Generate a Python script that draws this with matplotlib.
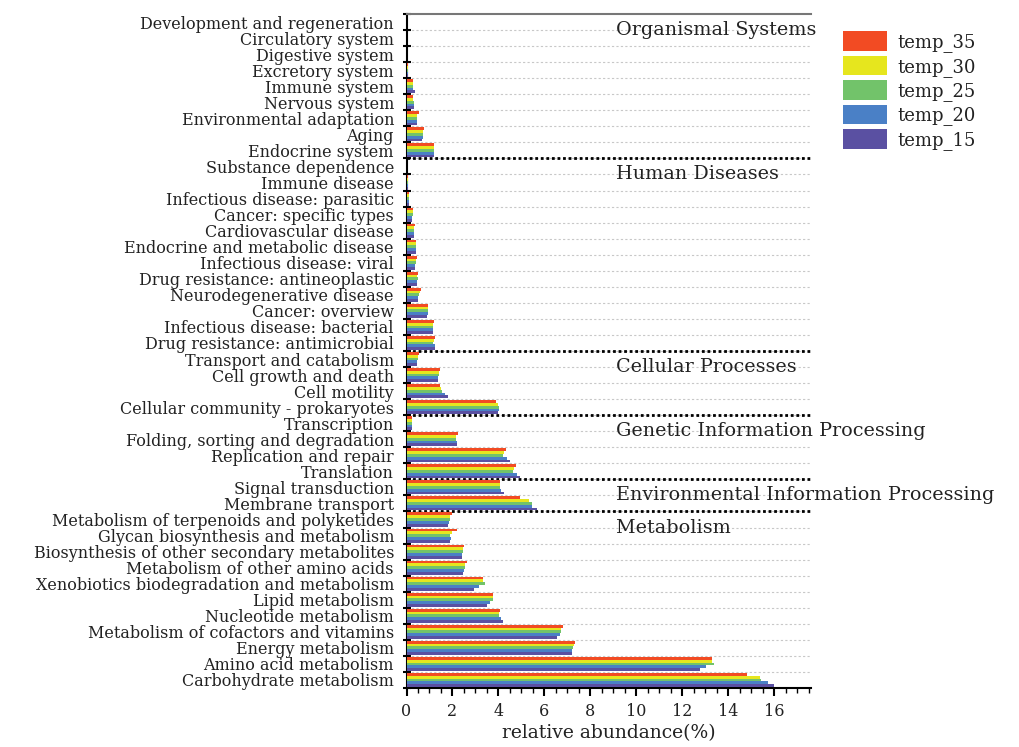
import matplotlib.pyplot as plt
import numpy as np

# カテゴリ (上から順)
categories = [
    'Development and regeneration', 'Circulatory system', 'Digestive system',
    'Excretory system', 'Immune system', 'Nervous system',
    'Environmental adaptation', 'Aging', 'Endocrine system',
    'Substance dependence', 'Immune disease', 'Infectious disease: parasitic',
    'Cancer: specific types', 'Cardiovascular disease',
    'Endocrine and metabolic disease', 'Infectious disease: viral',
    'Drug resistance: antineoplastic', 'Neurodegenerative disease',
    'Cancer: overview', 'Infectious disease: bacterial',
    'Drug resistance: antimicrobial',
    'Transport and catabolism', 'Cell growth and death', 'Cell motility',
    'Cellular community - prokaryotes',
    'Transcription', 'Folding, sorting and degradation',
    'Replication and repair', 'Translation',
    'Signal transduction', 'Membrane transport',
    'Metabolism of terpenoids and polyketides',
    'Glycan biosynthesis and metabolism',
    'Biosynthesis of other secondary metabolites',
    'Metabolism of other amino acids',
    'Xenobiotics biodegradation and metabolism', 'Lipid metabolism',
    'Nucleotide metabolism', 'Metabolism of cofactors and vitamins',
    'Energy metabolism', 'Amino acid metabolism', 'Carbohydrate metabolism',
]

groups = ['Organismal Systems', 'Human Diseases', 'Cellular Processes',
          'Genetic Information Processing',
          'Environmental Information Processing', 'Metabolism']
group_sizes = [9, 12, 4, 4, 2, 11]

series = ['temp_35', 'temp_30', 'temp_25', 'temp_20', 'temp_15']
colors = ['#F24B23', '#E6E61E', '#72C36A', '#4A80C6', '#5A50A2']

temp_35 = [0.02, 0.02, 0.03, 0.05, 0.30, 0.27, 0.53, 0.76, 1.19,
           0.03, 0.06, 0.10, 0.30, 0.35, 0.40, 0.45, 0.50, 0.64, 0.93, 1.19, 1.23,
           0.56, 1.45, 1.45, 3.88,
           0.24, 2.22, 4.32, 4.75,
           4.08, 4.95,
           1.97, 2.18, 2.52, 2.62, 3.32, 3.75, 4.07, 6.79, 7.35, 13.29, 14.81]
temp_30 = [0.02, 0.02, 0.03, 0.05, 0.28, 0.30, 0.47, 0.73, 1.19,
           0.03, 0.06, 0.10, 0.27, 0.34, 0.40, 0.43, 0.47, 0.59, 0.93, 1.15, 1.20,
           0.50, 1.42, 1.51, 4.00,
           0.24, 2.17, 4.25, 4.68,
           4.08, 5.31,
           1.91, 1.97, 2.45, 2.55, 3.35, 3.75, 4.04, 6.73, 7.27, 13.29, 15.40]
temp_25 = [0.02, 0.02, 0.03, 0.05, 0.28, 0.33, 0.47, 0.73, 1.19,
           0.03, 0.06, 0.11, 0.27, 0.34, 0.40, 0.43, 0.49, 0.56, 0.95, 1.15, 1.16,
           0.49, 1.41, 1.56, 4.04,
           0.24, 2.17, 4.20, 4.63,
           4.05, 5.44,
           1.88, 1.91, 2.44, 2.55, 3.43, 3.78, 4.04, 6.72, 7.25, 13.37, 15.44]
temp_20 = [0.02, 0.02, 0.03, 0.05, 0.30, 0.33, 0.47, 0.71, 1.19,
           0.03, 0.07, 0.11, 0.24, 0.34, 0.40, 0.39, 0.47, 0.52, 0.92, 1.15, 1.22,
           0.46, 1.39, 1.67, 4.01,
           0.24, 2.20, 4.38, 4.81,
           4.10, 5.44,
           1.85, 1.94, 2.43, 2.49, 3.14, 3.62, 4.13, 6.66, 7.22, 13.02, 15.72]
temp_15 = [0.02, 0.02, 0.03, 0.05, 0.35, 0.33, 0.47, 0.68, 1.19,
           0.03, 0.07, 0.11, 0.24, 0.31, 0.40, 0.37, 0.44, 0.52, 0.89, 1.17, 1.25,
           0.44, 1.38, 1.79, 4.00,
           0.24, 2.20, 4.49, 4.94,
           4.24, 5.66,
           1.79, 1.91, 2.40, 2.45, 2.94, 3.51, 4.20, 6.57, 7.18, 12.79, 15.98]

values = [temp_35, temp_30, temp_25, temp_20, temp_15]

plt.rcParams['font.family'] = ['DejaVu Serif', 'DejaVu Sans']

fig = plt.figure(figsize=(10.19, 7.47), dpi=100)
ax = fig.add_axes([406.5 / 1019, 59 / 747, (811 - 406.5) / 1019, (688 - 14) / 747])

n = len(categories)
y = np.arange(n)
bh = 0.175
for k, (name, vals, c) in enumerate(zip(series, values, colors)):
    ax.barh(y + (k - 2) * bh, vals, height=bh, color=c, label=name, zorder=3)

# 目盛り
ax.set_xlim(0, 17.6)
ax.set_ylim(n - 0.5, -0.5)
ax.set_xticks(np.arange(0, 17, 2))
ax.set_xticks(np.arange(0, 17.6, 0.5), minor=True)
ax.set_yticks(y)
ax.set_yticklabels(categories)
ax.set_yticks(np.arange(n + 1) - 0.5, minor=True)
ax.tick_params(axis='y', which='major', length=0, labelsize=11.5, pad=9,
               labelcolor='#222222')
ax.tick_params(axis='y', which='minor', direction='inout', length=6, width=1.5)
ax.tick_params(axis='x', which='major', direction='out', length=6, width=1.5,
               labelsize=11.5, pad=5, labelcolor='#222222')
ax.tick_params(axis='x', which='minor', direction='out', length=3.5, width=1)
ax.set_xlabel('relative abundance(%)', fontsize=13.5, labelpad=3, color='#222222')

# グリッド線
for b in np.arange(1, n) - 0.5:
    ax.axhline(b, color='#c8c8c8', lw=0.8, ls=(0, (2, 2)), zorder=1)

# グループ区切り線
bounds = np.cumsum(group_sizes)[:-1] - 0.5
for b in bounds:
    ax.axhline(b, color='black', lw=2.0, ls=(0, (1, 1)), zorder=2)

# グループ名
starts = np.concatenate([[0], np.cumsum(group_sizes)[:-1]])
for g, s in zip(groups, starts):
    ax.text(9.1, s + 0.5, g, fontsize=13.8, ha='left', va='center',
            color='#222222', clip_on=False, zorder=5)

ax.spines['right'].set_visible(False)
ax.spines['top'].set_color('#777777')
ax.spines['top'].set_linewidth(1.5)
ax.spines['left'].set_linewidth(1.5)
ax.spines['bottom'].set_linewidth(1.5)

fig.legend(loc='upper left', bbox_to_anchor=(836 / 1019, 1 - 24 / 747),
           frameon=False, fontsize=13, handlelength=2.4, handleheight=1.3,
           labelspacing=0.2, handletextpad=0.6, borderaxespad=0,
           labelcolor='#222222')

fig.savefig('out.png', dpi=100)
